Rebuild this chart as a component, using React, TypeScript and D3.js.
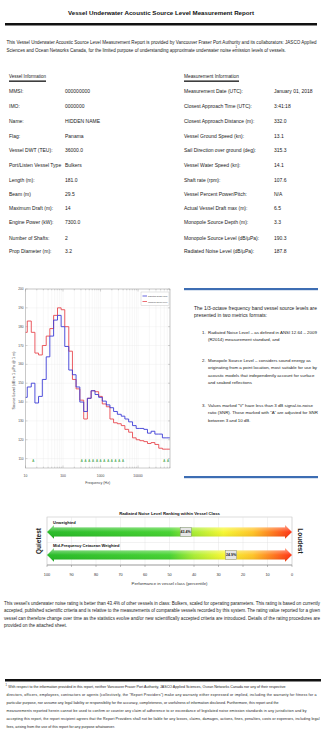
import React from "react";
import * as d3 from "d3";

const W = 321;
const H = 746;
const FAMILY = "'Liberation Sans Narrow', 'Liberation Sans', Arial, sans-serif";

// ---- header / info table ----
const reportTitle = "Vessel Underwater Acoustic Source Level Measurement Report";
const introLines = [
  "This Vessel Underwater Acoustic Source Level Measurement Report is provided by Vancouver Fraser Port Authority and its collaborators: JASCO Applied",
  "Sciences and Ocean Networks Canada, for the limited purpose of understanding approximate underwater noise emission levels of vessels.",
];
const introW = [310, 227];
const vesselLabels = ["MMSI:", "IMO:", "Name:", "Flag:", "Vessel DWT (TEU):", "Port/Listen Vessel Type", "Length (m):", "Beam (m)", "Maximum Draft (m):", "Engine Power (kW):", "Number of Shafts:", "Prop Diameter (m):"];
const vesselValues = ["000000000", "0000000", "HIDDEN NAME", "Panama", "36000.0", "Bulkers", "181.0", "29.5", "14", "7300.0", "2", "3.2"];
const measLabels = ["Measurement Date (UTC):", "Closest Approach Time (UTC):", "Closest Approach Distance (m):", "Vessel Ground Speed (kn):", "Sail Direction over ground (deg):", "Vessel Water Speed (kn):", "Shaft rate (rpm):", "Vessel Percent Power/Pitch:", "Actual Vessel Draft max (m):", "Monopole Source Depth (m):", "Monopole Source Level (dB/µPa):", "Radiated Noise Level (dB/µPa):"];
const measValues = ["January 01, 2018", "3:41:18", "332.0", "13.1", "315.3", "14.1", "107.6", "N/A", "6.5", "3.3", "190.3", "187.8"];
const rowY = [91, 106, 121, 135.5, 150, 164.5, 179.5, 194, 208, 222, 237.5, 251];

// ---- spectrum (1/3-octave bands) ----
const bandCenters = [10, 12.5, 16, 20, 25, 31.5, 40, 50, 63, 80, 100, 125, 160, 200, 250, 315, 400, 500, 630, 800, 1000, 1250, 1600, 2000, 2500, 3150, 4000, 5000, 6300, 8000, 10000, 12500, 16000, 20000, 25000, 31500, 40000, 50000, 63000];
const radiatedNoise = [142.5, 148, 150, 139.5, 143, 152, 164, 175, 183.5, 186, 180, 169.5, 157, 154.5, 148, 140, 135, 142, 146, 144, 142.5, 140.5, 138.5, 137, 135, 133.5, 132.5, 131, 129.5, 127.5, 126, 126, 125.5, 123.5, 124.5, 123, 123, 121, 121];
const monopoleSource = [177, 183, 177, 166, 165, 170, 175, 179, 186, 190, 189, 180, 167, 152, 147, 141, 131, 142, 146, 145.5, 143, 139, 137.5, 131, 129, 128.5, 127.5, 125.5, 124, 121, 120, 119.5, 119, 118, 118.5, 117.5, 115.5, 115, 115];
const snrMarked = [16, 315, 400, 500, 630, 800, 1000, 1250, 1600, 2000, 2500, 3150, 4000, 50000, 63000];
const yTicks = [110, 120, 130, 140, 150, 160, 170, 180, 190, 200];
const xLabels = [10, 100, 1000, 10000];
const seriesNames = ["Radiated Noise Level", "Monopole Source Level"];

const boxIntro = ["The 1/3-octave frequency band vessel source levels are", "presented in two metrics formats:"];
const boxIntroW = [123, 72];
const boxItems = [
  ["Radiated Noise Level – as defined in ANSI 12.64 – 2009", "(R2014) measurement standard, and"],
  ["Monopole Source Level – considers sound energy as", "originating from a point location, most suitable for use by", "acoustic models that independently account for surface", "and seabed reflections"],
  ["Values marked \u201CV\u201D have less than 3 dB signal-to-noise", "ratio (SNR). Those marked with \u201CA\u201D are adjusted for SNR", "between 3 and 10 dB."],
];
const boxItemY = [332, 360, 405];

// ---- ranking ----
const rankTitle = "Radiated Noise Level Ranking within Vessel Class";
const rankNames = ["Unweighted", "Mid-Frequency Cetacean Weighted"];
const rankValues = [43.4, 24.9];
const pctTicks = [100, 90, 80, 70, 60, 50, 40, 30, 20, 10, 0];

const ratingLines = [
  "This vessel's underwater noise rating is better than 43.4% of other vessels in class: Bulkers, scaled for operating parameters. This rating is based on currently",
  "accepted, published scientific criteria and is relative to the measurements of comparable vessels recorded by this system. The rating value reported for a given",
  "vessel can therefore change over time as the statistics evolve and/or new scientifically accepted criteria are introduced. Details of the rating procedures are",
  "provided on the attached sheet.",
];
const ratingW = [316, 316, 316, 64];

const footLines = [
  "With respect to the information provided in this report, neither Vancouver Fraser Port Authority, JASCO Applied Sciences, Ocean Networks Canada nor any of their respective",
  "directors, officers, employees, contractors or agents (collectively, the \u201CReport Providers\u201D) make any warranty either expressed or implied, including the warranty for fitness for a",
  "particular purpose, nor assume any legal liability or responsibility for the accuracy, completeness, or usefulness of information disclosed. Furthermore, this report and the",
  "measurements reported herein cannot be used to confirm or counter any claim of adherence to or exceedance of legislated noise emission standards in any jurisdiction and by",
  "accepting this report, the report recipient agrees that the Report Providers shall not be liable for any losses, claims, damages, actions, fines, penalties, costs or expenses, including legal",
  "fees, arising from the use of this report for any purpose whatsoever.",
];
const footW = [279, 310, 272, 300, 313, 112];

let ctx: CanvasRenderingContext2D | null = null;
const measure = (s: string, size: number, weight = "normal") => {
  if (!ctx && typeof document !== "undefined") ctx = document.createElement("canvas").getContext("2d");
  if (!ctx) return s.length * size * 0.42;
  ctx.font = `${weight} ${size}px ${FAMILY}`;
  return ctx.measureText(s).width;
};
const fitSize = (lines: string[], widths: number[], max: number, weight = "normal") =>
  Math.min(max, ...lines.map((l, i) => (max * widths[i]) / measure(l, max, weight)));

// with w: "justify" shrinks if too long, else widens the spacing; "scale" sets the size to fit; "fit" only shrinks
const T = ({ x, y, w, size = 5, weight = "normal", anchor = "start", fill = "#1a1a1a", mode = "justify", children }: any) => {
  let s = size;
  let len = mode === "justify" ? w : undefined;
  if (w) {
    const nat = measure(String(children), s, weight);
    if (mode === "scale" || nat > w) s = (s * w) / nat;
  }
  return (
    <text
      x={x}
      y={y}
      fontSize={s}
      fontWeight={weight}
      textAnchor={anchor}
      dominantBaseline="central"
      fill={fill}
      textLength={len}
      lengthAdjust={len ? "spacing" : undefined}
    >
      {children}
    </text>
  );
};

const BLUE = "#3c3cd6";
const RED = "#e8474f";
const BAR = "#3d6db3";

function Spectrum() {
  const PL = 25.5, PR = 170, PT = 289, PB = 468;
  const x = d3.scaleLog().domain([10, 71000]).range([PL, PR]);
  const y = d3.scaleLinear().domain([105, 200]).range([PB, PT]);
  const k = Math.pow(2, 1 / 6);
  const step = (vals: number[]) => {
    const pts = bandCenters.map((f, i) => [f / k, vals[i]]);
    pts.push([bandCenters[bandCenters.length - 1] * k, vals[vals.length - 1]]);
    return d3.line<number[]>().x((d) => x(d[0])).y((d) => y(d[1])).curve(d3.curveStepAfter)(pts as any) || "";
  };
  const minor: number[] = [];
  for (let dec = 10; dec <= 10000; dec *= 10) for (let m = 1; m <= 9; m++) if (dec * m <= 71000) minor.push(dec * m);
  return (
    <g>
      <defs>
        <clipPath id="plotclip">
          <rect x={PL} y={PT} width={PR - PL} height={PB - PT} />
        </clipPath>
      </defs>
      <rect x={PL} y={PT} width={PR - PL} height={PB - PT} fill="#fff" />
      {minor.map((f) => (
        <line key={"g" + f} x1={x(f)} x2={x(f)} y1={PT} y2={PB} stroke="#ececec" strokeWidth={0.4} />
      ))}
      {yTicks.map((t) => (
        <line key={"h" + t} x1={PL} x2={PR} y1={y(t)} y2={y(t)} stroke="#ececec" strokeWidth={0.4} />
      ))}
      {minor.map((f) => {
        const len = xLabels.includes(f) ? 2.5 : 1.3;
        return (
          <g key={"t" + f} stroke="#777" strokeWidth={0.3}>
            <line x1={x(f)} x2={x(f)} y1={PB} y2={PB - len} />
            <line x1={x(f)} x2={x(f)} y1={PT} y2={PT + len} />
          </g>
        );
      })}
      {yTicks.map((t) => (
        <g key={"yt" + t}>
          <line x1={PL} x2={PL + 2} y1={y(t)} y2={y(t)} stroke="#777" strokeWidth={0.3} />
          <line x1={PR} x2={PR - 2} y1={y(t)} y2={y(t)} stroke="#777" strokeWidth={0.3} />
          <T x={PL - 2} y={y(t)} size={3.2} anchor="end" fill="#444">{t}</T>
        </g>
      ))}
      <g clipPath="url(#plotclip)">
        <path d={step(monopoleSource)} fill="none" stroke={RED} strokeWidth={0.9} />
        <path d={step(radiatedNoise)} fill="none" stroke={BLUE} strokeWidth={0.9} />
      </g>
      {snrMarked.map((f) => (
        <T key={"s" + f} x={x(f)} y={y(108.5)} size={3} anchor="middle" fill="#2f9e3a">A</T>
      ))}
      <rect x={PL} y={PT} width={PR - PL} height={PB - PT} fill="none" stroke="#999" strokeWidth={0.5} />
      {xLabels.map((f) => (
        <T key={"xl" + f} x={x(f)} y={PB + 8} size={3.4} anchor="middle" fill="#444">{f}</T>
      ))}
      <T x={(PL + PR) / 2} y={PB + 15} size={3.6} anchor="middle" fill="#444">Frequency (Hz)</T>
      <g transform={`translate(14,${(PT + PB) / 2 + 2}) rotate(-90)`}>
        <T x={0} y={0} size={3.8} anchor="middle" fill="#444">Source Level (dB re 1 µPa @ 1 m)</T>
      </g>
      {/* legend */}
      <rect x={141} y={292} width={28} height={13.5} fill="#fff" stroke="#aaa" strokeWidth={0.3} />
      {seriesNames.map((n, i) => (
        <g key={n}>
          <line x1={142.5} x2={147} y1={296 + i * 5.5} y2={296 + i * 5.5} stroke={i ? RED : BLUE} strokeWidth={0.8} />
          <T x={148} y={296 + i * 5.5} size={2.8} fill="#333" w={19.5} mode="scale">{n}</T>
        </g>
      ))}
    </g>
  );
}

function Ranking() {
  const p = d3.scaleLinear().domain([100, 0]).range([47, 292]);
  const top = 517, bot = 565;
  const bars = [532, 555];
  const arrow = (cy: number) => {
    const x0 = p(100), x1 = p(0), L = 7, h = 4.5, Hh = 6.8;
    return `M${x0},${cy}L${x0 + L},${cy - Hh}L${x0 + L},${cy - h}L${x1 - L},${cy - h}L${x1 - L},${cy - Hh}L${x1},${cy}L${x1 - L},${cy + Hh}L${x1 - L},${cy + h}L${x0 + L},${cy + h}L${x0 + L},${cy + Hh}Z`;
  };
  return (
    <g>
      <defs>
        <linearGradient id="heat" x1="0" x2="1" y1="0" y2="0">
          <stop offset="0" stopColor="#1fb81f" />
          <stop offset="0.5" stopColor="#3fd12a" />
          <stop offset="0.6" stopColor="#a6ec2c" />
          <stop offset="0.72" stopColor="#f6f72a" />
          <stop offset="0.84" stopColor="#ffc21f" />
          <stop offset="1" stopColor="#ff2a0c" />
        </linearGradient>
        <linearGradient id="shade" x1="0" x2="0" y1="0" y2="1">
          <stop offset="0" stopColor="#fff" stopOpacity="0.55" />
          <stop offset="0.5" stopColor="#fff" stopOpacity="0.05" />
          <stop offset="1" stopColor="#000" stopOpacity="0.12" />
        </linearGradient>
      </defs>
      <T x={169.5} y={top - 4} size={5} weight="bold" anchor="middle" fill="#111" w={101} mode="scale">{rankTitle}</T>
      <rect x={p(100)} y={top} width={p(0) - p(100)} height={bot - top} fill="#fff" stroke="#bbb" strokeWidth={0.5} />
      {pctTicks.map((t) => (
        <g key={t}>
          <line x1={p(t)} x2={p(t)} y1={top} y2={bot} stroke="#ddd" strokeWidth={0.4} />
          <line x1={p(t)} x2={p(t)} y1={bot} y2={bot + 2} stroke="#666" strokeWidth={0.4} />
          <T x={p(t)} y={bot + 10} size={3.8} anchor="middle" fill="#333">{t}</T>
        </g>
      ))}
      <line x1={p(100)} x2={p(0)} y1={542.5} y2={542.5} stroke="#ddd" strokeWidth={0.4} />
      <line x1={p(100)} x2={p(0)} y1={bot} y2={bot} stroke="#666" strokeWidth={0.5} />
      {bars.map((cy, i) => (
        <g key={i}>
          <T x={p(100) + 6} y={cy - 10} size={4} weight="bold" fill="#111">{rankNames[i]}</T>
          <path d={arrow(cy)} fill="url(#heat)" />
          <path d={arrow(cy)} fill="url(#shade)" />
          <rect x={p(rankValues[i]) - 5.5} y={cy - 4.5} width={11} height={9} fill="#e6e6e6" stroke="#777" strokeWidth={0.4} />
          <T x={p(rankValues[i])} y={cy} size={3.6} weight="bold" anchor="middle" fill="#222">{rankValues[i].toFixed(1) + "%"}</T>
        </g>
      ))}
      <g transform="translate(38,541) rotate(-90)">
        <T x={0} y={0} size={6.5} weight="bold" anchor="middle" fill="#222">Quietest</T>
      </g>
      <g transform="translate(300,541) rotate(90)">
        <T x={0} y={0} size={6.5} weight="bold" anchor="middle" fill="#222">Loudest</T>
      </g>
      <T x={169.5} y={bot + 18} size={3.8} anchor="middle" fill="#333" w={76} mode="scale">Performance in vessel class (percentile)</T>
    </g>
  );
}

// a block of lines sharing one font size; all but the last line are set to the widths
const Para = ({ x, y0, dy, lines, widths, max, first = 0 }: any) => {
  const size = fitSize(lines.slice(0, -1), widths, max);
  return (
    <g>
      {lines.map((l: string, i: number) => (
        <T key={i} x={i === 0 ? x + first : x} y={y0 + i * dy} size={size} w={i < lines.length - 1 ? widths[i] - (i === 0 ? first : 0) : undefined}>
          {l}
        </T>
      ))}
    </g>
  );
};

export default function App() {
  // item text sized so that its longest line reaches the right edge of the box
  const itemSize = fitSize([boxItems[1][1]], [109], 5.2);
  return (
    <svg width={W} height={H} viewBox={`0 0 ${W} ${H}`} fontFamily={FAMILY} style={{ position: "absolute", left: 0, top: 0, background: "#fff" }}>
      <rect width={W} height={H} fill="#fff" />
      <T x={161} y={12.5} size={8} weight="bold" anchor="middle" fill="#111" w={187} mode="scale">{reportTitle}</T>
      <rect x={5} y={23} width={312} height={2.5} fill="#111" />
      <Para x={6.5} y0={42.5} dy={7.5} lines={introLines} widths={introW} max={5} />
      <T x={235.5} y={47} size={2.8}>1</T>

      <T x={9} y={76} size={5} w={37} mode="scale">Vessel Information</T>
      <rect x={9} y={80.5} width={37} height={1.3} fill="#111" />
      <T x={184} y={76} size={5} w={55} mode="scale">Measurement Information</T>
      <rect x={184} y={80.5} width={55} height={1.3} fill="#111" />
      {vesselLabels.map((l, i) => (
        <g key={"v" + i}>
          <T x={9} y={rowY[i]} w={53} mode="fit">{l}</T>
          <T x={65} y={rowY[i]}>{vesselValues[i]}</T>
        </g>
      ))}
      {measLabels.map((l, i) => (
        <g key={"m" + i}>
          <T x={184} y={rowY[i]} w={86} mode="fit">{l}</T>
          <T x={274} y={rowY[i]}>{measValues[i]}</T>
        </g>
      ))}

      <Spectrum />

      <rect x={184} y={288} width={134} height={2.2} fill={BAR} />
      <rect x={184} y={476} width={134} height={2.2} fill={BAR} />
      <Para x={194} y0={308} dy={7.5} lines={boxIntro} widths={boxIntroW} max={5.2} />
      {boxItems.map((lines, j) => (
        <g key={"it" + j}>
          <T x={202} y={boxItemY[j]} size={itemSize}>{j + 1 + "."}</T>
          {lines.map((l, i) => (
            <T key={i} x={208} y={boxItemY[j] + i * 7.5} size={itemSize}>{l}</T>
          ))}
        </g>
      ))}

      <Ranking />

      <Para x={4} y0={603} dy={7.5} lines={ratingLines} widths={ratingW} max={5} />

      <rect x={5} y={679} width={316} height={2.5} fill="#111" />
      <T x={5.5} y={685.5} size={2.6}>1</T>
      <Para x={6.5} y0={687} dy={8} lines={footLines} widths={footW} max={4.2} first={1.8} />
    </svg>
  );
}
